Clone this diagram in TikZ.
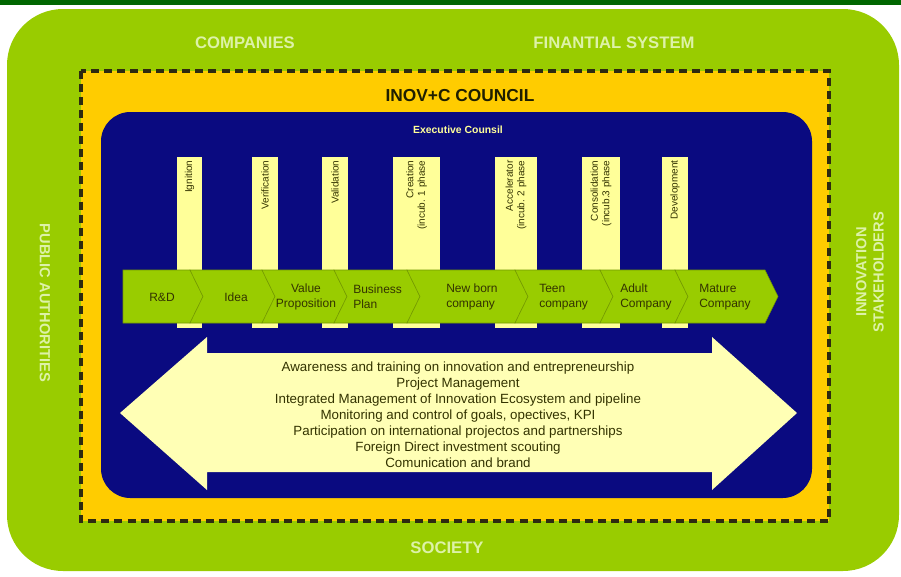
\documentclass[tikz,border=0pt]{standalone}
\usepackage{fontspec}
\setmainfont{Liberation Sans}
\definecolor{leaf}{HTML}{99CC00}
\definecolor{topbar}{HTML}{006600}
\definecolor{gold}{HTML}{FFCC00}
\definecolor{navy}{HTML}{0A0A80}
\definecolor{paleyellow}{HTML}{FFFF99}
\definecolor{cream}{HTML}{FFFFB5}
\definecolor{olive}{HTML}{333300}
\definecolor{paletext}{HTML}{DDF2A8}
\definecolor{dashcol}{HTML}{2E2A10}

\begin{document}
\begin{tikzpicture}[x=0.75pt, y=-0.75pt,
  ring/.style={text=paletext, font=\bfseries\fontsize{12.5}{14}\selectfont, align=center},
  side/.style={text=paletext, font=\bfseries\fontsize{11}{13}\selectfont, align=center},
  phase/.style={rotate=90, anchor=east, align=right, text=olive, font=\fontsize{7.5}{8.5}\selectfont, inner sep=1pt},
  stage/.style={text=olive, font=\fontsize{9}{11}\selectfont, align=left, inner sep=0pt},
  stagebox/.style={fill=leaf, draw=leaf!75!black, line width=0.4pt}]
  \useasboundingbox (0,0) rectangle (901,576);

  % Outer ring
  \fill[topbar] (0,0) rectangle (901,5);
  \fill[leaf, rounded corners=42pt] (7,9) rectangle (899,571);
  \node[ring] (companies) at (245,43) {COMPANIES};
  \node[ring] (finsys) at (614,43) {FINANTIAL SYSTEM};
  \node[ring] (society) at (447,548) {SOCIETY};
  \node[side, rotate=-90] (pubauth) at (45,303) {PUBLIC AUTHORITIES};
  \node[side, rotate=90] (stakeh) at (870,272) {INNOVATION\\STAKEHOLDERS};

  % Council
  \fill[gold] (81,71) rectangle (829,521);
  \draw[dashcol, line width=2.5pt, dash pattern=on 6pt off 3.8pt] (81,71) rectangle (829,521);
  \node[text=olive!60!black, font=\bfseries\fontsize{13}{15}\selectfont] (council) at (460,96) {INOV+C COUNCIL};

  % Executive counsil
  \fill[navy, rounded corners=22pt] (101,112) rectangle (812,498);
  \node[text=paleyellow, font=\bfseries\fontsize{7.8}{9}\selectfont] (exec) at (458,130) {Executive Counsil};

  % Phases
  \fill[paleyellow] (177,157) rectangle (202,328);
  \fill[paleyellow] (252,157) rectangle (278,328);
  \fill[paleyellow] (322,157) rectangle (348,328);
  \fill[paleyellow] (393,157) rectangle (440,328);
  \fill[paleyellow] (495,157) rectangle (537,328);
  \fill[paleyellow] (582,157) rectangle (620,328);
  \fill[paleyellow] (662,157) rectangle (688,328);
  \node[phase] (ign) at (189.5,159) {Ignition};
  \node[phase] (verif) at (265,159) {Verification};
  \node[phase] (valid) at (335,159) {Validation};
  \node[phase] (creat) at (416.5,159) {Creation\\(incub. 1 phase};
  \node[phase] (accel) at (516,159) {Accelerator\\(incub. 2 phase};
  \node[phase] (consol) at (601,159) {Consolidation\\(incub.3 phase};
  \node[phase] (devel) at (675,159) {Development};

  % Stages
  \draw[stagebox] (123,270) -- (190,270) -- (203,296.5) -- (190,323) -- (123,323) -- cycle;
  \draw[stagebox] (190,270) -- (262,270) -- (275,296.5) -- (262,323) -- (190,323) -- (203,296.5) -- cycle;
  \draw[stagebox] (262,270) -- (334,270) -- (347,296.5) -- (334,323) -- (262,323) -- (275,296.5) -- cycle;
  \draw[stagebox] (334,270) -- (407,270) -- (420,296.5) -- (407,323) -- (334,323) -- (347,296.5) -- cycle;
  \draw[stagebox] (407,270) -- (515,270) -- (528,296.5) -- (515,323) -- (407,323) -- (420,296.5) -- cycle;
  \draw[stagebox] (515,270) -- (600,270) -- (613,296.5) -- (600,323) -- (515,323) -- (528,296.5) -- cycle;
  \draw[stagebox] (600,270) -- (675,270) -- (688,296.5) -- (675,323) -- (600,323) -- (613,296.5) -- cycle;
  \draw[stagebox] (675,270) -- (765,270) -- (778,296.5) -- (765,323) -- (675,323) -- (688,296.5) -- cycle;
  \node[stage] (rd) at (162,297) {R\&D};
  \node[stage] (idea) at (236,297) {Idea};
  \node[stage, align=center] (valprop) at (306,297) {Value\\Proposition};
  \node[stage, anchor=west] (bplan) at (353,297) {Business\\Plan};
  \node[stage, anchor=west] (newborn) at (446,297) {New born\\company};
  \node[stage, anchor=west] (teen) at (539,297) {Teen\\company};
  \node[stage, anchor=west] (adult) at (620,297) {Adult\\Company};
  \node[stage, anchor=west] (mature) at (699,297) {Mature\\Company};

  % Transversal services
  \fill[cream] (120,413) -- (207,337) -- (207,353) -- (712,353) -- (712,337) -- (797,413)
    -- (712,490) -- (712,472) -- (207,472) -- (207,490) -- cycle;
  \node[text=olive, font=\fontsize{10}{12}\selectfont, align=center] (services) at (458,415)
    {Awareness and training on innovation and entrepreneurship\\
     Project Management\\
     Integrated Management of Innovation Ecosystem and pipeline\\
     Monitoring and control of goals, opectives, KPI\\
     Participation on international projectos and partnerships\\
     Foreign Direct investment scouting\\
     Comunication and brand};
\end{tikzpicture}
\end{document}
